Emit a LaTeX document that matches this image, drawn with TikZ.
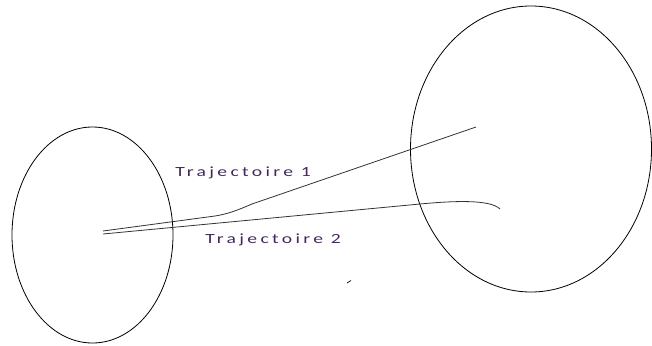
\documentclass[tikz,border=0pt]{standalone}
\usepackage{fontspec}
\setmainfont{Carlito}
\newfontfamily\labelfont[LetterSpace=17]{Carlito}
\definecolor{labelink}{HTML}{44285A}
\definecolor{pathink}{HTML}{333333}
\begin{document}
\begin{tikzpicture}[x=1pt,y=-1pt,
  rim/.style={draw=black,line width=0.8pt},
  traj/.style={draw=pathink,line width=0.8pt},
  tag/.style={text=labelink,font=\labelfont\fontsize{14}{16}\selectfont,
    inner sep=0pt,anchor=west,xscale=1.4,transform shape}]
\useasboundingbox[fill=white] (0,0) rectangle (652,345);
% the two regions
\draw[rim] (92.5,235) ellipse [x radius=80.5pt, y radius=108pt];
\draw[rim] (531,149) ellipse [x radius=120.5pt, y radius=143pt];
% start and end points of the paths
\coordinate (s1) at (103,231);
\coordinate (e1) at (476,127);
\coordinate (s2) at (103,234);
\coordinate (e2) at (500,209);
% trajectory 1
\draw[traj] (s1) -- (215,216) .. controls (228,214) and (238,210) .. (252,204) -- (e1);
% trajectory 2
\draw[traj] (s2) -- (420,204) .. controls (452,201) and (490,199) .. (e2);
% labels
\node[tag] (t1) at (175,173) {Trajectoire 1};
\node[tag] (t2) at (205,240) {Trajectoire 2};
% stray pen mark
\coordinate (m1) at (347,283);
\coordinate (m2) at (351,280.5);
\draw[line width=0.7pt] (m1) -- (m2);
\end{tikzpicture}
\end{document}
